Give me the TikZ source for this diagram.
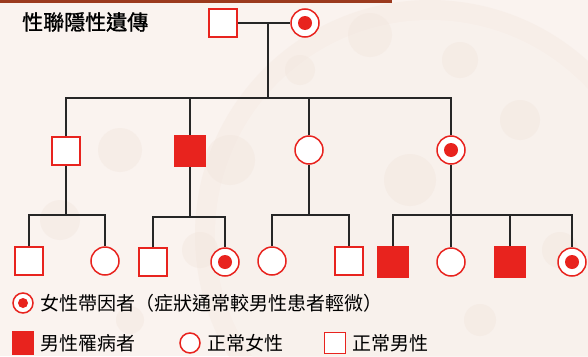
\documentclass[tikz,border=0pt]{standalone}
\usepackage{fontspec}
\newfontfamily\cjk{Noto Sans CJK TC}
\newfontfamily\cjkbold[FakeBold=1.2]{Noto Sans CJK TC}
\definecolor{bg}{HTML}{FAF3EF}
\definecolor{blot}{HTML}{F1E3DA}
\definecolor{bar}{HTML}{9B3A1E}
\definecolor{sym}{HTML}{E8231E}
\tikzset{
  male/.style={rectangle,draw=sym,line width=1.5pt,fill=white,minimum size=28pt,inner sep=0pt},
  affected/.style={male,fill=sym,minimum size=31pt},
  female/.style={circle,draw=sym,line width=1.5pt,fill=white,minimum size=28pt,inner sep=0pt},
  carrier/.style={female,path picture={\fill[sym] (path picture bounding box.center) circle (7pt);}},
  smallcarrier/.style={female,minimum size=20pt,path picture={\fill[sym] (path picture bounding box.center) circle (5pt);}},
  link/.style={draw=black!85,line width=1.3pt},
  lbl/.style={anchor=west,inner sep=0pt,font=\cjk\fontsize{19pt}{19pt}\selectfont},
}
\begin{document}
\begin{tikzpicture}[x=1pt,y=-1pt]
\fill[bg] (0,0) rectangle (588,356);
\useasboundingbox (0,0) rectangle (588,356);
% faint background texture
\fill[blot,opacity=0.3] (430,235) circle (235pt);
\fill[bg,opacity=0.6] (430,235) circle (215pt);
\foreach \x/\y/\r in {370/35/22, 460/60/18, 120/150/22, 230/160/25, 60/220/20, 200/250/18, 410/180/26, 520/120/20, 300/70/15, 560/250/18, 130/320/14, 480/320/16}
  \fill[blot,opacity=0.35] (\x,\y) circle (\r pt);
\fill[bar] (0,0) rectangle (392,3);
% title
\node[lbl,font=\cjkbold\fontsize{21pt}{21pt}\selectfont] (title) at (22,22) {性聯隱性遺傳};
% generation 1
\node[male] (F) at (223,23) {};
\node[carrier] (M) at (305,23) {};
\coordinate (m0) at (268,23);
\coordinate (b0) at (268,98);
% generation 2
\node[male] (A) at (66,151) {};
\node[affected] (B) at (190,151) {};
\node[female] (C) at (309,150) {};
\node[carrier] (D) at (451,150) {};
% generation 3
\node[male] (A1) at (29,261) {};
\node[female] (A2) at (105,261) {};
\node[male] (B1) at (153,262) {};
\node[carrier] (B2) at (225,262) {};
\node[female] (C1) at (272,261) {};
\node[male] (C2) at (349,261) {};
\node[affected] (D1) at (393,262) {};
\node[female] (D2) at (451,262) {};
\node[affected] (D3) at (510,262) {};
\node[carrier] (D4) at (572,262) {};
\coordinate (bA) at (66,215);
\coordinate (bB) at (190,217);
\coordinate (bC) at (309,215);
\coordinate (bD) at (451,215);
% connectors
\draw[link] (F.east) -- (M.west);
\draw[link] (m0) -- (b0);
\draw[link] (A.north) |- (D.north |- b0) -- (D.north);
\draw[link] (B.north) -- (B.north |- b0);
\draw[link] (C.north) -- (C.north |- b0);
\draw[link] (A.south) -- (bA);
\draw[link] (A1.north) |- (A2.north |- bA) -- (A2.north);
\draw[link] (B.south) -- (bB);
\draw[link] (B1.north) |- (B2.north |- bB) -- (B2.north);
\draw[link] (C.south) -- (bC);
\draw[link] (C1.north) |- (C2.north |- bC) -- (C2.north);
\draw[link] (D.south) -- (bD);
\draw[link] (D1.north) |- (D4.north |- bD) -- (D4.north);
\draw[link] (D2.north) -- (D2.north |- bD);
\draw[link] (D3.north) -- (D3.north |- bD);
% legend
\node[smallcarrier] (L1) at (23,303) {};
\node[lbl] (L1t) at (40,303) {女性帶因者（症狀通常較男性患者輕微）};
\node[male,fill=sym,minimum width=20pt,minimum height=23pt] (L2) at (23,343) {};
\node[lbl] (L2t) at (40,343) {男性罹病者};
\node[female,minimum size=20pt] (L3) at (190,343) {};
\node[lbl] (L3t) at (207,343) {正常女性};
\node[male,minimum size=21pt] (L4) at (335,343) {};
\node[lbl] (L4t) at (352,343) {正常男性};
\end{tikzpicture}
\end{document}
